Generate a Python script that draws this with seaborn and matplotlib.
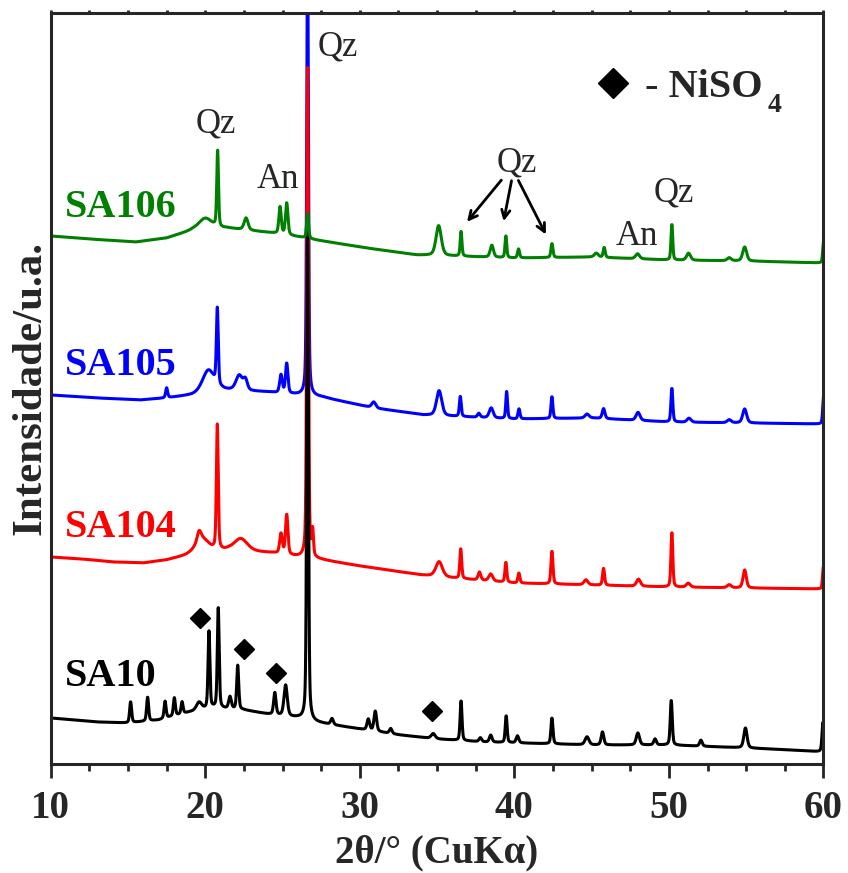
import numpy as np
import pandas as pd
import matplotlib
matplotlib.use("Agg")
import matplotlib.pyplot as plt
import seaborn as sns

sns.set_style("ticks")
plt.rcParams['font.family'] = ['Liberation Serif', 'DejaVu Serif']

# peak lists: (2theta, height, fwhm)
sa10_peaks = [
    (15.17, 21, 0.15), (16.27, 24, 0.15), (17.4, 17, 0.15), (18.0, 18, 0.15),
    (18.5, 12, 0.15), (19.6, 8, 0.4), (20.24, 77, 0.14), (20.84, 100, 0.14),
    (21.6, 12, 0.2), (22.1, 44, 0.15), (24.5, 22, 0.18), (25.2, 31, 0.25),
    (26.62, 496, 0.13), (28.2, 6, 0.2), (30.55, 11, 0.2), (31.0, 20, 0.2),
    (32.0, 5, 0.2), (34.75, 5, 0.3), (36.55, 40, 0.14), (37.8, 4, 0.2),
    (38.47, 7, 0.2), (39.47, 27, 0.14), (40.2, 7, 0.2), (42.43, 26, 0.15),
    (44.7, 8, 0.3), (45.7, 13, 0.2), (47.99, 12, 0.25), (49.1, 6, 0.2),
    (50.15, 45, 0.15), (52.07, 6, 0.2), (54.95, 20, 0.25), (59.97, 30, 0.15),
]
sa104_peaks = [
    (19.8, 14, 1.0), (22.3, 12, 1.0), (19.6, 10, 0.3), (20.78, 125, 0.14),
    (24.9, 20, 0.2), (25.27, 40, 0.18), (26.62, 490, 0.13), (26.95, 25, 0.12),
    (35.13, 15, 0.5), (36.53, 30, 0.14), (37.74, 8, 0.2), (38.47, 7, 0.3),
    (39.45, 20, 0.14), (40.29, 10, 0.15), (42.43, 33, 0.15), (44.63, 5, 0.3),
    (45.77, 17, 0.15), (48.03, 7, 0.3), (50.19, 55, 0.14), (51.25, 4, 0.3),
    (53.9, 3, 0.3), (54.9, 18, 0.25), (59.99, 22, 0.12),
]
sa105_peaks = [
    (17.5, 10, 0.15), (20.2, 22, 0.9), (22.2, 15, 0.5), (22.6, 10, 0.3),
    (20.78, 76, 0.14), (24.9, 18, 0.2), (25.27, 30, 0.18), (26.62, 450, 0.13),
    (30.9, 6, 0.3), (35.13, 25, 0.4), (36.5, 20, 0.14), (37.7, 4, 0.2),
    (38.5, 10, 0.3), (39.5, 27, 0.13), (40.3, 10, 0.15), (42.43, 22, 0.14),
    (44.7, 4, 0.3), (45.77, 10, 0.2), (48.0, 8, 0.3), (50.19, 34, 0.14),
    (51.3, 4, 0.3), (53.9, 3, 0.3), (54.9, 14, 0.3), (60.0, 28, 0.12),
]
sa106_peaks = [
    (20.0, 11, 1.0), (20.8, 76, 0.13), (22.64, 12, 0.3), (24.84, 27, 0.18),
    (25.27, 32, 0.18), (26.62, 25, 0.15), (35.1, 30, 0.4), (36.55, 25, 0.13),
    (38.54, 12, 0.25), (39.45, 22, 0.13), (40.27, 9, 0.15), (42.43, 14, 0.15),
    (45.3, 4, 0.3), (45.81, 10, 0.15), (47.97, 5, 0.3), (50.19, 36, 0.13),
    (51.27, 7, 0.3), (53.9, 3, 0.3), (54.9, 14, 0.3), (60.0, 22, 0.12),
]

# background levels (2theta, intensity), offsets included
sa10_base = [(10, 46), (13, 42), (15, 41), (17, 44), (19, 52), (20.5, 56), (22.5, 54),
             (24, 50), (26, 46), (27, 42), (30, 35), (32.6, 29), (35, 25), (38, 22),
             (45, 19), (50, 19), (55, 16), (58, 14), (60, 12)]
sa104_base = [(10, 207), (12, 205), (14, 202), (16, 201), (17.5, 204), (19.2, 210),
              (21.5, 214), (24.4, 211), (26, 207), (27.6, 204), (30, 198), (34, 189),
              (36, 186), (40, 181), (45, 179), (50, 177), (55, 176), (60, 175)]
sa105_base = [(10, 369), (13, 366), (15.8, 364), (17.5, 366), (19.2, 369), (21.1, 374),
              (24.0, 372), (26.1, 369), (27.5, 367), (30.9, 356), (32.8, 352), (34.1, 349),
              (40, 345), (45, 346), (50, 342), (55, 341), (60, 340)]
sa106_base = [(10, 528), (12.5, 525), (15.5, 522), (17.5, 526), (19.2, 534), (21.4, 536),
              (24.4, 531), (26.1, 527), (27.2, 524), (30.45, 516), (33.7, 509), (36, 508),
              (40, 506), (45, 507), (50, 504), (55, 503), (60, 501)]

samples = ['SA105', 'SA104', 'SA10', 'SA106']   # drawing order
colors = {'SA10': 'black', 'SA104': '#ff0000', 'SA105': '#0000ff', 'SA106': '#008000'}
peaks = {'SA10': sa10_peaks, 'SA104': sa104_peaks, 'SA105': sa105_peaks, 'SA106': sa106_peaks}
bases = {'SA10': sa10_base, 'SA104': sa104_base, 'SA105': sa105_base, 'SA106': sa106_base}

# NiSO4 reflections marked in SA10
niso4_x = [19.67, 22.52, 24.59, 34.68]
niso4_y = [146, 115, 91, 53]


def pattern(tt, base, plist):
    bx, by = zip(*base)
    y = np.interp(tt, bx, by)
    for c, h, w in plist:
        g = np.exp(-4 * np.log(2) * ((tt - c) / w) ** 2)
        lo = 1 / (1 + 4 * ((tt - c) / w) ** 2)
        y = y + h * (0.6 * g + 0.4 * lo)
    return y


tt = np.arange(10, 60.001, 0.02)
rows = []
for s in samples:
    rows.append(pd.DataFrame({'2theta': tt, 'I': pattern(tt, bases[s], peaks[s]), 'sample': s}))
df = pd.concat(rows, ignore_index=True)

fig = plt.figure(figsize=(8.48, 8.73), dpi=100)
ax = fig.add_axes([0.0598, 0.1249, 0.9113, 0.8602])

sns.lineplot(data=df, x='2theta', y='I', hue='sample', hue_order=samples,
             palette=colors, estimator=None, sort=False, lw=2.2, legend=False, ax=ax)

ax.set_xlim(10, 60)
ax.set_ylim(0, 751)
ax.set_yticks([])
ax.set_xticks([10, 20, 30, 40, 50, 60])
ax.set_xticks(np.arange(10, 60.1, 2.5), minor=True)
ax.tick_params(axis='x', which='major', direction='out', length=10, width=2, pad=9,
               labelsize=28, top=True)
ax.tick_params(axis='x', which='minor', direction='out', length=5, width=2, top=True)
for lbl in ax.get_xticklabels():
    lbl.set_fontweight('bold')
for t in ax.xaxis.get_major_ticks() + ax.xaxis.get_minor_ticks():
    t.tick2line.set_markersize(2)
for sp in ax.spines.values():
    sp.set_linewidth(2.2)

ax.set_xlabel('2θ/° (CuKα)', fontsize=28, fontweight='bold', labelpad=5)
ax.set_ylabel('Intensidade/u.a.', fontsize=31, fontweight='bold', labelpad=1)

# sample names
name_y = {'SA106': 547, 'SA105': 389, 'SA104': 227, 'SA10': 78}
for s, yy in name_y.items():
    ax.text(10.93, yy, s, color=colors[s], fontsize=29, fontweight='bold', va='baseline')

# phase labels
ax.text(27.24, 709, 'Qz', fontsize=25, va='baseline')
ax.text(19.35, 632, 'Qz', fontsize=25, va='baseline')
ax.text(23.35, 576, 'An', fontsize=25, va='baseline')
ax.text(38.88, 592, 'Qz', fontsize=25, va='baseline')
ax.text(46.52, 519, 'An', fontsize=25, va='baseline')
ax.text(48.98, 562, 'Qz', fontsize=25, va='baseline')

arr = dict(arrowstyle='->,head_length=0.6,head_width=0.3', lw=2, color='black')
ax.annotate('', xy=(36.82, 540), xytext=(39.27, 586), arrowprops=arr)
ax.annotate('', xy=(39.27, 540), xytext=(39.85, 586), arrowprops=arr)
ax.annotate('', xy=(42.12, 527), xytext=(40.18, 586), arrowprops=arr)

ax.plot(niso4_x, niso4_y, 'D', color='black', ms=10, ls='none')

# key
ax.plot([46.36], [681], 'D', color='black', ms=15)
ax.text(48.47, 667, '- NiSO', fontsize=29, fontweight='bold', va='baseline')
ax.text(56.36, 652, '4', fontsize=20, fontweight='bold', va='baseline')

fig.savefig('out.png', dpi=100)
